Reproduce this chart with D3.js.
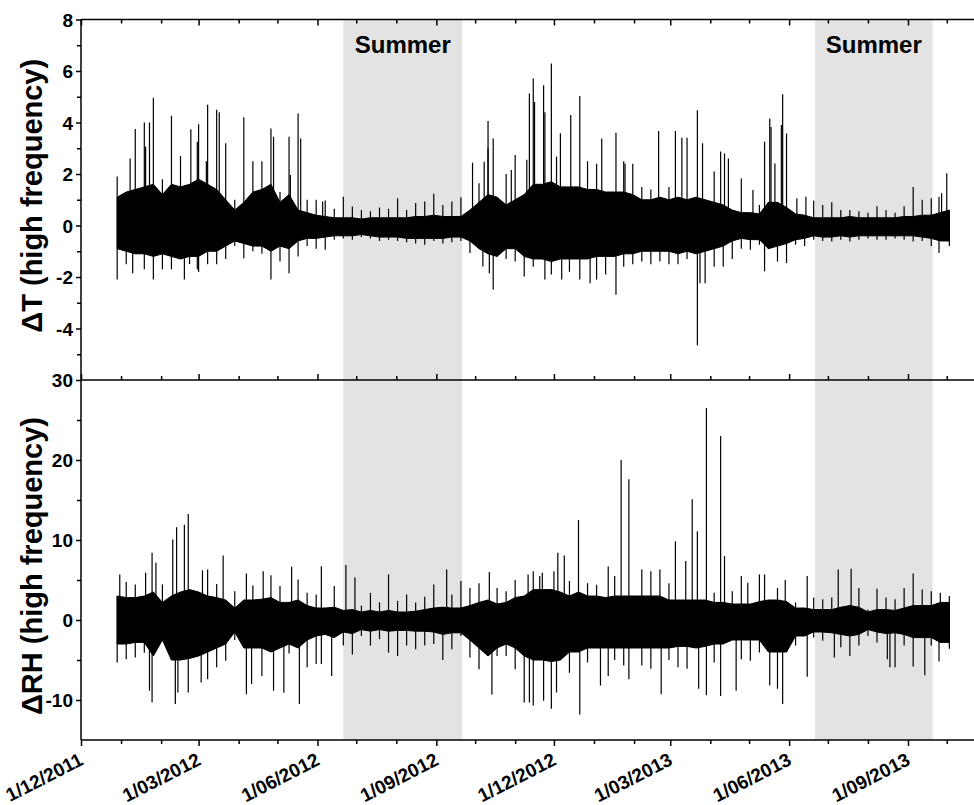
<!DOCTYPE html>
<html>
<head>
<meta charset="utf-8">
<script src="https://cdn.jsdelivr.net/npm/d3@7"></script>
<style>
  body { margin: 0; background: #fff; }
  svg { display: block; }
  text { font-family: Arial, "Liberation Sans", sans-serif; font-weight: bold; fill: #000; }
</style>
</head>
<body>
<svg id="chart" width="974" height="805"></svg>
<script>
// Weekly bins of the high-frequency residuals, first bin centred on 29 Dec 2011.
const firstBin = new Date(2011, 11, 29);
const binCount = 93;

// ΔT: weekly maximum / minimum and the dense band holding most samples
const dtHi = [1.9, 2.4, 3.75, 4.0, 4.96, 1.8, 4.26, 2.7, 3.74, 3.93,
  4.69, 4.5, 3.19, 1.0, 4.2, 2.5, 2.5, 3.77, 1.3, 3.45,
  4.35, 1.0, 1.0, 0.97, 0.65, 1.12, 0.74, 0.6, 0.55, 0.7,
  0.65, 1.06, 0.6, 0.87, 0.93, 1.23, 0.8, 0.93, 1.1, 2.44,
  1.64, 4.06, 3.38, 2.0, 2.74, 2.55, 5.71, 5.45, 6.29, 3.58,
  4.29, 5.03, 2.5, 2.4, 3.38, 3.6, 2.5, 2.4, 1.5, 1.4,
  3.67, 1.5, 3.67, 3.41, 4.48, 3.19, 2.1, 2.87, 2.6, 1.83,
  1.38, 0.8, 4.16, 3.9, 5.1, 1.06, 1.12, 0.97, 0.8, 0.9,
  0.6, 0.6, 0.55, 0.5, 0.75, 0.6, 0.5, 0.75, 1.5, 1.0,
  1.06, 1.25, 2.03];
const dtLo = [-2.1, -1.5, -1.85, -1.7, -2.1, -1.7, -1.7, -2.1, -1.5, -1.8,
  -1.5, -1.5, -1.3, -0.8, -1.27, -1.0, -1.1, -2.1, -1.4, -1.85,
  -1.2, -0.8, -0.9, -0.94, -0.55, -0.5, -0.55, -0.45, -0.5, -0.6,
  -0.55, -0.6, -0.65, -0.7, -0.75, -0.6, -0.7, -0.65, -0.6, -1.07,
  -1.59, -1.85, -2.49, -1.3, -1.4, -1.98, -1.6, -2.1, -1.9, -2.1,
  -1.8, -2.1, -2.24, -2.1, -1.9, -2.69, -1.6, -1.5, -1.4, -1.5,
  -1.4, -1.5, -1.5, -1.3, -4.65, -2.24, -1.6, -1.6, -1.3, -0.9,
  -0.94, -0.75, -1.78, -1.4, -1.46, -0.75, -0.8, -0.55, -0.6, -0.62,
  -0.55, -0.62, -0.55, -0.5, -0.55, -0.55, -0.5, -0.55, -0.62, -0.6,
  -0.8, -1.07, -0.8];
const dtBandHi = [1.1, 1.3, 1.4, 1.5, 1.6, 1.2, 1.6, 1.5, 1.6, 1.8,
  1.6, 1.4, 1.0, 0.6, 0.9, 1.3, 1.4, 1.6, 0.9, 1.2,
  0.6, 0.5, 0.4, 0.35, 0.3, 0.3, 0.3, 0.25, 0.3, 0.3,
  0.3, 0.3, 0.3, 0.35, 0.35, 0.4, 0.35, 0.35, 0.35, 0.6,
  0.9, 1.2, 1.1, 0.8, 1.0, 1.2, 1.6, 1.6, 1.7, 1.5,
  1.5, 1.5, 1.4, 1.4, 1.3, 1.3, 1.3, 1.2, 1.0, 1.0,
  1.1, 1.0, 1.1, 1.0, 1.1, 1.0, 0.9, 0.8, 0.6, 0.5,
  0.5, 0.45, 0.9, 0.9, 0.7, 0.45, 0.4, 0.3, 0.3, 0.3,
  0.3, 0.35, 0.3, 0.3, 0.3, 0.3, 0.3, 0.35, 0.35, 0.4,
  0.4, 0.5, 0.6];
const dtBandLo = [-0.9, -1.0, -1.1, -1.1, -1.2, -1.1, -1.2, -1.3, -1.2, -1.2,
  -1.0, -1.0, -0.8, -0.6, -0.7, -0.8, -0.8, -1.0, -0.8, -0.9,
  -0.6, -0.5, -0.5, -0.45, -0.4, -0.4, -0.4, -0.35, -0.4, -0.45,
  -0.45, -0.45, -0.5, -0.5, -0.5, -0.5, -0.5, -0.45, -0.45, -0.6,
  -0.9, -1.1, -1.2, -0.9, -0.9, -1.2, -1.3, -1.3, -1.4, -1.3,
  -1.3, -1.3, -1.3, -1.2, -1.2, -1.2, -1.1, -1.1, -1.0, -1.0,
  -1.0, -1.0, -1.1, -1.0, -1.1, -1.0, -0.9, -0.8, -0.6, -0.5,
  -0.55, -0.55, -0.9, -0.8, -0.7, -0.55, -0.5, -0.4, -0.45, -0.45,
  -0.4, -0.45, -0.4, -0.4, -0.4, -0.4, -0.4, -0.4, -0.4, -0.45,
  -0.5, -0.6, -0.6];

// ΔT: individual spikes (date, value)
const dtSpikeDates = ["2012-01-08", "2012-01-10", "2012-01-20", "2012-01-23", "2012-02-19",
  "2012-02-24", "2012-02-29", "2012-02-29", "2012-03-07", "2012-03-15", "2012-03-17",
  "2012-04-28", "2012-05-11", "2012-05-19", "2012-06-05", "2012-09-20", "2012-09-29",
  "2012-10-07", "2012-10-08", "2012-10-11", "2012-10-12", "2012-10-15", "2012-10-15",
  "2012-10-29", "2012-11-01", "2012-11-10", "2012-11-12", "2012-11-16", "2012-11-23",
  "2012-11-24", "2012-11-24", "2012-12-03", "2012-12-06", "2012-12-07", "2012-12-14",
  "2012-12-21", "2012-12-21", "2012-12-29", "2013-01-07", "2013-01-18", "2013-01-18",
  "2013-01-25", "2013-02-20", "2013-03-05", "2013-03-10", "2013-03-22", "2013-03-22",
  "2013-03-24", "2013-03-26", "2013-04-09", "2013-04-12", "2013-04-15", "2013-04-25",
  "2013-05-04", "2013-05-13", "2013-05-13", "2013-05-17", "2013-05-18", "2013-05-21",
  "2013-05-26", "2013-05-27", "2013-05-30", "2013-05-30", "2013-06-07", "2013-06-14",
  "2013-09-05", "2013-09-25", "2013-09-25", "2013-09-27", "2013-10-01"];
const dtSpikeVals = [2.6, -1.85, 3.06, 4.0, -2.1,
  3.74, 3.25, -1.7, 2.5, 4.5, 4.4,
  3.45, 1.96, 3.38, 0.93, 1.1, 2.44,
  -1.59, 2.48, 2.99, -1.85, 3.38, -2.49,
  2.16, 2.74, 2.55, 5.13, 4.8, 5.45,
  4.4, -2.1, 2.67, 3.58, -2.1, 4.29,
  5.03, -2.1, -2.24, 3.38, 3.6, -2.69,
  2.4, 3.67, 3.67, 3.41, 4.48, -4.65,
  -2.24, 3.19, 2.87, 2.8, 2.6, 1.83,
  1.38, 3.25, -1.78, 4.16, 3.83, 2.41,
  3.9, 5.1, 3.57, -1.46, 1.06, 1.12,
  1.5, 1.12, -1.07, 1.25, 2.03];

// ΔRH: weekly maximum / minimum and the dense band
const rhHi = [5.7, 4.74, 4.45, 5.9, 8.4, 4.45, 10.06, 11.9, 13.25, 6.2,
  6.3, 4.5, 8.06, 3.6, 5.8, 4.3, 6.1, 5.6, 4.24, 6.65,
  5.07, 3.4, 3.2, 6.73, 4.24, 6.86, 5.3, 1.8, 3.4, 2.2,
  5.7, 2.4, 3.2, 2.2, 2.9, 4.45, 6.3, 3.2, 4.86, 4.0,
  4.6, 6.0, 4.0, 3.6, 5.0, 5.7, 6.1, 5.9, 6.1, 8.4,
  4.86, 12.5, 4.6, 4.4, 6.7, 5.5, 20.0, 17.6, 6.3, 6.1,
  6.3, 4.6, 9.85, 7.36, 15.1, 26.5, 3.4, 23.0, 3.6, 5.5,
  4.65, 5.7, 3.4, 4.0, 5.0, 2.2, 5.5, 2.8, 2.6, 2.8,
  6.3, 6.4, 4.0, 1.3, 3.9, 2.8, 2.6, 4.0, 5.8, 3.8,
  3.6, 3.4, 3.0];
const rhLo = [-5.3, -4.9, -4.7, -4.1, -10.3, -2.5, -10.5, -9.06, -9.06, -7.8,
  -7.4, -5.9, -5.1, -2.5, -9.27, -8.0, -7.0, -8.85, -9.1, -4.2,
  -10.5, -5.9, -5.5, -5.5, -7.0, -3.2, -4.3, -2.0, -3.2, -2.4,
  -4.07, -4.5, -3.2, -3.66, -3.2, -3.0, -5.0, -3.66, -2.0, -4.7,
  -6.15, -9.3, -4.5, -4.5, -6.15, -10.3, -10.7, -10.1, -11.1, -9.06,
  -6.6, -11.8, -5.3, -8.2, -7.0, -5.0, -5.7, -7.4, -5.7, -6.1,
  -9.27, -5.0, -5.9, -6.1, -8.6, -9.4, -5.3, -9.5, -8.85, -4.9,
  -5.1, -4.07, -8.2, -8.6, -10.5, -3.2, -7.1, -2.2, -2.6, -4.7,
  -3.4, -4.5, -3.2, -2.0, -2.8, -4.9, -5.9, -3.2, -5.8, -6.9,
  -3.2, -5.2, -3.6];
const rhBandHi = [3.0, 2.8, 2.8, 3.0, 3.5, 2.2, 3.0, 3.5, 3.8, 3.5,
  3.0, 2.8, 2.5, 1.5, 2.5, 2.5, 2.6, 2.8, 2.2, 2.2,
  2.5, 1.8, 1.5, 1.5, 1.6, 1.2, 1.3, 1.0, 1.2, 1.0,
  1.2, 1.0, 1.0, 1.1, 1.3, 1.5, 1.6, 1.5, 1.5, 1.8,
  2.2, 2.5, 2.0, 2.2, 2.8, 3.0, 3.8, 3.8, 3.8, 3.5,
  3.0, 3.5, 3.0, 3.0, 2.8, 3.0, 3.0, 3.0, 3.0, 3.0,
  3.0, 2.5, 2.5, 2.5, 2.5, 2.5, 2.2, 2.2, 2.0, 2.0,
  2.0, 2.3, 2.5, 2.5, 2.3, 1.5, 1.5, 1.3, 1.3, 1.3,
  1.6, 1.8, 1.6, 1.0, 1.3, 1.3, 1.2, 1.5, 1.8, 1.8,
  1.8, 2.2, 2.2];
const rhBandLo = [-3.0, -3.0, -2.8, -2.8, -4.5, -2.5, -5.0, -5.0, -4.8, -4.5,
  -4.0, -3.5, -3.0, -1.5, -3.5, -3.5, -3.5, -4.0, -3.5, -3.0,
  -3.5, -2.5, -2.0, -1.8, -2.2, -1.5, -1.7, -1.2, -1.4, -1.2,
  -1.4, -1.3, -1.3, -1.4, -1.4, -1.5, -1.8, -1.6, -1.6, -2.5,
  -3.5, -4.5, -3.5, -3.0, -3.5, -4.5, -5.0, -5.0, -5.2, -5.0,
  -4.0, -4.0, -3.5, -3.5, -3.5, -3.5, -3.5, -3.5, -3.5, -3.5,
  -3.5, -3.5, -3.3, -3.3, -3.5, -3.3, -3.0, -3.0, -2.5, -2.5,
  -2.5, -2.5, -4.0, -4.0, -4.0, -2.0, -2.0, -1.5, -1.5, -1.6,
  -1.8, -2.0, -1.8, -1.2, -1.5, -1.7, -1.6, -1.8, -2.2, -2.2,
  -2.2, -2.8, -2.8];

// ΔRH: individual spikes (date, value)
const rhSpikeDates = ["2011-12-31", "2012-01-20", "2012-01-23", "2012-01-25", "2012-01-25",
  "2012-01-28", "2012-02-10", "2012-02-12", "2012-02-13", "2012-02-14", "2012-02-19",
  "2012-02-22", "2012-02-22", "2012-03-03", "2012-03-04", "2012-03-08", "2012-03-20",
  "2012-04-07", "2012-04-07", "2012-04-11", "2012-04-20", "2012-04-28", "2012-05-06",
  "2012-05-12", "2012-05-18", "2012-06-04", "2012-06-04", "2012-06-12", "2012-06-23",
  "2012-06-30", "2012-07-26", "2012-09-06", "2012-09-09", "2012-10-12", "2012-10-14",
  "2012-11-11", "2012-11-12", "2012-11-15", "2012-11-20", "2012-11-23", "2012-11-29",
  "2012-12-01", "2012-12-03", "2012-12-04", "2012-12-09", "2012-12-20", "2012-12-21",
  "2013-01-06", "2013-01-12", "2013-01-12", "2013-01-22", "2013-01-28", "2013-01-28",
  "2013-02-21", "2013-02-22", "2013-03-05", "2013-03-13", "2013-03-18", "2013-03-22",
  "2013-03-23", "2013-03-29", "2013-03-29", "2013-04-09", "2013-04-09", "2013-04-12",
  "2013-04-21", "2013-04-25", "2013-04-30", "2013-05-13", "2013-05-17", "2013-05-27",
  "2013-05-29", "2013-06-15", "2013-06-15", "2013-07-06", "2013-07-09", "2013-07-19",
  "2013-08-16", "2013-08-18", "2013-09-05", "2013-09-05", "2013-09-14", "2013-09-25"];
const rhSpikeVals = [5.7, 5.9, -8.85, 8.4, -10.3,
  7.15, 10.06, -10.5, 11.6, -9.06, 11.9,
  13.25, -9.06, -7.8, 6.2, 6.3, 8.06,
  5.8, -9.27, -8.0, 6.1, -8.85, -9.1,
  6.65, -10.5, 6.73, -5.5, -7.0, 6.86,
  5.3, 5.7, -5.0, 6.3, 6.0, -9.3,
  5.7, -10.3, 6.1, 5.5, -10.1, -11.1,
  6.1, -9.06, 8.4, 8.06, 12.5, -11.8,
  -8.2, 6.7, -7.0, 20.0, 17.6, -7.4,
  6.3, -9.27, 9.85, 7.36, 15.1, 11.1,
  -8.6, 26.5, -9.4, 23.0, -9.5, 8.0,
  -8.85, 5.5, 4.65, 5.7, -8.2, -10.5,
  5.0, 5.5, -7.1, -4.7, 6.3, 6.4,
  -4.9, -5.9, 5.8, -5.8, -6.9, -5.2];

// Shaded summer periods
const summers = [["2012-06-21", "2012-09-21"], ["2013-06-21", "2013-09-20"]];
const summerLabel = "Summer";

// Axis ticks
const dtTicks = [-4, -2, 0, 2, 4, 6, 8];
const dtMinor = [-5, -3, -1, 1, 3, 5, 7];
const rhTicks = [-10, 0, 10, 20, 30];
const rhMinor = [-5, 5, 15, 25];
const dateTicks = ["2011-12-01", "2012-03-01", "2012-06-01", "2012-09-01",
  "2012-12-01", "2013-03-01", "2013-06-01", "2013-09-01"];
const monthTicks = ["2012-01-01", "2012-02-01", "2012-04-01", "2012-05-01", "2012-07-01",
  "2012-08-01", "2012-10-01", "2012-11-01", "2013-01-01", "2013-02-01", "2013-04-01",
  "2013-05-01", "2013-07-01", "2013-08-01", "2013-10-01", "2013-11-01"];

const dtTitle = "ΔT (high frequency)";
const rhTitle = "ΔRH (high frequency)";

// ---------------------------------------------------------------
const W = 974, H = 805;
const padL = 81, yTop = 19.5, yMid = 380, yBot = 740;
const parse = d3.timeParse("%Y-%m-%d");
const fmt = d3.timeFormat("%-d/%m/%Y");

const svg = d3.select("#chart");

const x = d3.scaleTime()
  .domain([parse("2011-12-01"), parse("2013-09-01")])
  .range([padL, 908]);
const yT = d3.scaleLinear().domain([-6, 8]).range([yMid, yTop]);
const yR = d3.scaleLinear().domain([-15, 30]).range([yBot, yMid]);

const bins = d3.range(binCount).map(i => d3.timeDay.offset(firstBin, 7 * i));
const makeBins = (hi, lo, bHi, bLo) =>
  bins.map((d, i) => ({ date: d, hi: hi[i], lo: lo[i], bHi: bHi[i], bLo: bLo[i] }));
const makeSpikes = (dates, vals) => dates.map((s, i) => ({ date: parse(s), v: vals[i] }));

const dtData = makeBins(dtHi, dtLo, dtBandHi, dtBandLo);
const rhData = makeBins(rhHi, rhLo, rhBandHi, rhBandLo);
const dtSpikes = makeSpikes(dtSpikeDates, dtSpikeVals);
const rhSpikes = makeSpikes(rhSpikeDates, rhSpikeVals);

// Summer shading spans both panels
svg.append("g").selectAll("rect").data(summers).join("rect")
  .attr("x", d => x(parse(d[0])))
  .attr("width", d => x(parse(d[1])) - x(parse(d[0])))
  .attr("y", yTop).attr("height", yBot - yTop)
  .attr("fill", "#e3e3e3");

svg.append("g").selectAll("text").data(summers).join("text")
  .attr("x", d => (x(parse(d[0])) + x(parse(d[1]))) / 2)
  .attr("y", 53)
  .attr("text-anchor", "middle")
  .style("font-size", "24px")
  .text(summerLabel);

// Clip paths for each panel
const defs = svg.append("defs");
defs.append("clipPath").attr("id", "clipT").append("rect")
  .attr("x", padL).attr("y", yTop).attr("width", W - padL).attr("height", yMid - yTop);
defs.append("clipPath").attr("id", "clipR").append("rect")
  .attr("x", padL).attr("y", yMid).attr("width", W - padL).attr("height", yBot - yMid);

function drawSeries(data, spikes, y, clipId) {
  const g = svg.append("g").attr("clip-path", `url(#${clipId})`);
  const band = d3.area()
    .x(d => x(d.date))
    .y0(d => y(d.bLo))
    .y1(d => y(d.bHi));
  g.append("path").datum(data)
    .attr("d", band)
    .attr("fill", "#000")
    .attr("stroke", "#000")
    .attr("stroke-width", 1)
    .attr("stroke-linejoin", "round");

  // weekly extremes, unless that extreme is already one of the listed spikes of the week
  const halfWeek = 3.5 * 864e5;
  data.forEach(d => {
    const near = spikes.filter(s => Math.abs(s.date - d.date) <= halfWeek);
    const maxUp = d3.max(near, s => s.v > 0 ? s.v : null);
    const minDn = d3.min(near, s => s.v < 0 ? s.v : null);
    d.top = (maxUp != null && maxUp >= d.hi * 0.97) ? d.bHi : d.hi;
    d.bot = (minDn != null && minDn <= d.lo * 0.97) ? d.bLo : d.lo;
  });
  g.selectAll("line.ext").data(data).join("line")
    .attr("class", "ext")
    .attr("x1", d => x(d.date)).attr("x2", d => x(d.date))
    .attr("y1", d => y(d.bot)).attr("y2", d => y(d.top))
    .attr("stroke", "#000")
    .attr("stroke-width", 1.2);

  g.selectAll("line.spike").data(spikes).join("line")
    .attr("class", "spike")
    .attr("x1", d => x(d.date)).attr("x2", d => x(d.date))
    .attr("y1", y(0)).attr("y2", d => y(d.v))
    .attr("stroke", "#000")
    .attr("stroke-width", 1.2);
}
drawSeries(dtData, dtSpikes, yT, "clipT");
drawSeries(rhData, rhSpikes, yR, "clipR");

// ---- Axes ----
const axisStroke = 1.5;
const majorDates = dateTicks.map(parse);
const minorDates = monthTicks.map(parse);

function styleAxis(g) {
  g.select(".domain").remove();
  g.selectAll("line").attr("stroke", "#000").attr("stroke-width", axisStroke);
}

// upper border of the top panel: ticks pointing down into the plot
svg.append("g").attr("transform", `translate(0,${yTop})`)
  .call(d3.axisBottom(x).tickValues(majorDates).tickSize(6).tickFormat(""))
  .call(styleAxis);
svg.append("g").attr("transform", `translate(0,${yTop})`)
  .call(d3.axisBottom(x).tickValues(minorDates).tickSize(4).tickFormat(""))
  .call(styleAxis);

// shared border between panels: ticks pointing up
svg.append("g").attr("transform", `translate(0,${yMid})`)
  .call(d3.axisTop(x).tickValues(majorDates).tickSize(6).tickFormat(""))
  .call(styleAxis);
svg.append("g").attr("transform", `translate(0,${yMid})`)
  .call(d3.axisTop(x).tickValues(minorDates).tickSize(4).tickFormat(""))
  .call(styleAxis);

// bottom date axis
const xAxis = svg.append("g").attr("transform", `translate(0,${yBot})`)
  .call(d3.axisBottom(x).tickValues(majorDates).tickSize(6).tickFormat(fmt))
  .call(styleAxis);
xAxis.selectAll("text")
  .style("font-size", "19px")
  .attr("text-anchor", "end")
  .attr("dy", null)
  .attr("y", 0)
  .attr("transform", "translate(3,24) rotate(-27)");
svg.append("g").attr("transform", `translate(0,${yBot})`)
  .call(d3.axisBottom(x).tickValues(minorDates).tickSize(4).tickFormat(""))
  .call(styleAxis);

// left axes
function yAxis(scale, ticks, minor) {
  const g = svg.append("g").attr("transform", `translate(${padL},0)`)
    .call(d3.axisLeft(scale).tickValues(ticks).tickSize(5).tickPadding(3).tickFormat(d => String(d)))
    .call(styleAxis);
  g.selectAll("text").style("font-size", "19px").attr("dy", "0.36em");
  svg.append("g").attr("transform", `translate(${padL},0)`)
    .call(d3.axisLeft(scale).tickValues(minor).tickSize(4).tickFormat(""))
    .call(styleAxis);
  return g;
}
yAxis(yT, dtTicks, dtMinor);
yAxis(yR, rhTicks, rhMinor);

// frame lines
const frame = svg.append("g").attr("stroke", "#000").attr("stroke-width", axisStroke);
frame.append("line").attr("x1", padL).attr("x2", W).attr("y1", yTop).attr("y2", yTop);
frame.append("line").attr("x1", padL).attr("x2", W).attr("y1", yMid).attr("y2", yMid);
frame.append("line").attr("x1", padL).attr("x2", W).attr("y1", yBot).attr("y2", yBot);
frame.append("line").attr("x1", padL).attr("x2", padL).attr("y1", yTop).attr("y2", yBot);

// axis titles
svg.append("text")
  .attr("transform", `translate(42,${(yTop + yMid) / 2 - 4}) rotate(-90)`)
  .attr("text-anchor", "middle")
  .style("font-size", "29px")
  .text(dtTitle);
svg.append("text")
  .attr("transform", `translate(42,${(yMid + yBot) / 2 + 6}) rotate(-90)`)
  .attr("text-anchor", "middle")
  .style("font-size", "29px")
  .text(rhTitle);
</script>
</body>
</html>
